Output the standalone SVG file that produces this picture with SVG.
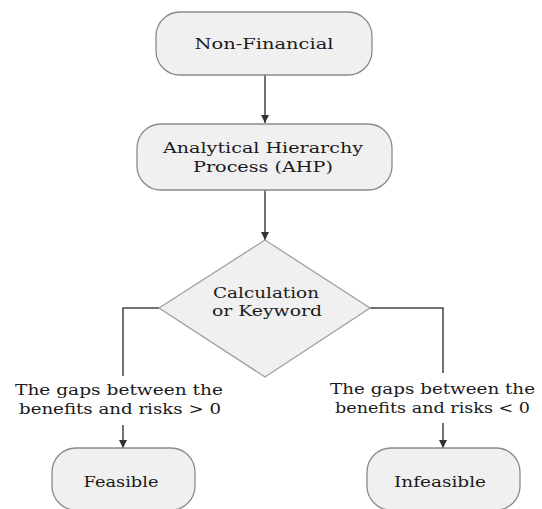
<svg xmlns="http://www.w3.org/2000/svg" width="542" height="509" viewBox="0 0 542 509">
<defs>
<marker id="arr" viewBox="0 0 10 10" refX="10" refY="5" markerWidth="8" markerHeight="8" markerUnits="userSpaceOnUse" orient="auto">
<path d="M0,0 L10,5 L0,10 z" fill="#333"/>
</marker>
<style>
.box{fill:#f0f0f0;stroke:#8a8a8a;stroke-width:1.3}
.dia{fill:#f0f0f0;stroke:#a0a0a0;stroke-width:1.3}
.t{font-family:"DejaVu Serif","Liberation Serif",serif;font-size:15.5px;fill:#1a1a1a;text-anchor:middle;dominant-baseline:central}
.lbl{font-family:"DejaVu Serif","Liberation Serif",serif;font-size:15.5px;fill:#1a1a1a;dominant-baseline:central}
.c{fill:none;stroke:#444;stroke-width:1.5}
</style>
</defs>
<rect width="542" height="509" fill="#fff"/>
<g id="connectors">
<line class="c" x1="265" y1="75" x2="265" y2="123" marker-end="url(#arr)"/>
<line class="c" x1="265" y1="190" x2="265" y2="240" marker-end="url(#arr)"/>
<polyline class="c" points="159,308 123,308 123,376"/>
<line class="c" x1="123" y1="425" x2="123" y2="448" marker-end="url(#arr)"/>
<polyline class="c" points="370,308 443,308 443,373"/>
<line class="c" x1="443" y1="423" x2="443" y2="448" marker-end="url(#arr)"/>
</g>
<g id="non-financial">
<rect class="box" x="156" y="12" width="216" height="63" rx="24"/>
<text class="t" x="264" y="44" textLength="139" lengthAdjust="spacingAndGlyphs">Non-Financial</text>
</g>
<g id="ahp">
<rect class="box" x="137" y="124" width="255" height="66" rx="24"/>
<text class="t" x="263" y="148" textLength="200" lengthAdjust="spacingAndGlyphs">Analytical Hierarchy</text>
<text class="t" x="263" y="167" textLength="140" lengthAdjust="spacingAndGlyphs">Process (AHP)</text>
</g>
<g id="decision">
<polygon class="dia" points="265,240 370,308 265,377 159,308"/>
<text class="t" x="266" y="293" textLength="106" lengthAdjust="spacingAndGlyphs">Calculation</text>
<text class="t" x="267" y="311" textLength="110" lengthAdjust="spacingAndGlyphs">or Keyword</text>
</g>
<g id="label-left">
<text class="lbl" x="15" y="390" textLength="208" lengthAdjust="spacingAndGlyphs">The gaps between the</text>
<text class="lbl" x="19" y="409" textLength="202" lengthAdjust="spacingAndGlyphs">benefits and risks &gt; 0</text>
</g>
<g id="label-right">
<text class="lbl" x="330" y="389" textLength="205" lengthAdjust="spacingAndGlyphs">The gaps between the</text>
<text class="lbl" x="335" y="408" textLength="195" lengthAdjust="spacingAndGlyphs">benefits and risks &lt; 0</text>
</g>
<g id="feasible">
<rect class="box" x="52" y="448" width="143" height="62" rx="24"/>
<text class="t" x="121" y="482" textLength="75" lengthAdjust="spacingAndGlyphs">Feasible</text>
</g>
<g id="infeasible">
<rect class="box" x="367" y="448" width="153" height="62" rx="24"/>
<text class="t" x="440" y="482" textLength="92" lengthAdjust="spacingAndGlyphs">Infeasible</text>
</g>
</svg>
